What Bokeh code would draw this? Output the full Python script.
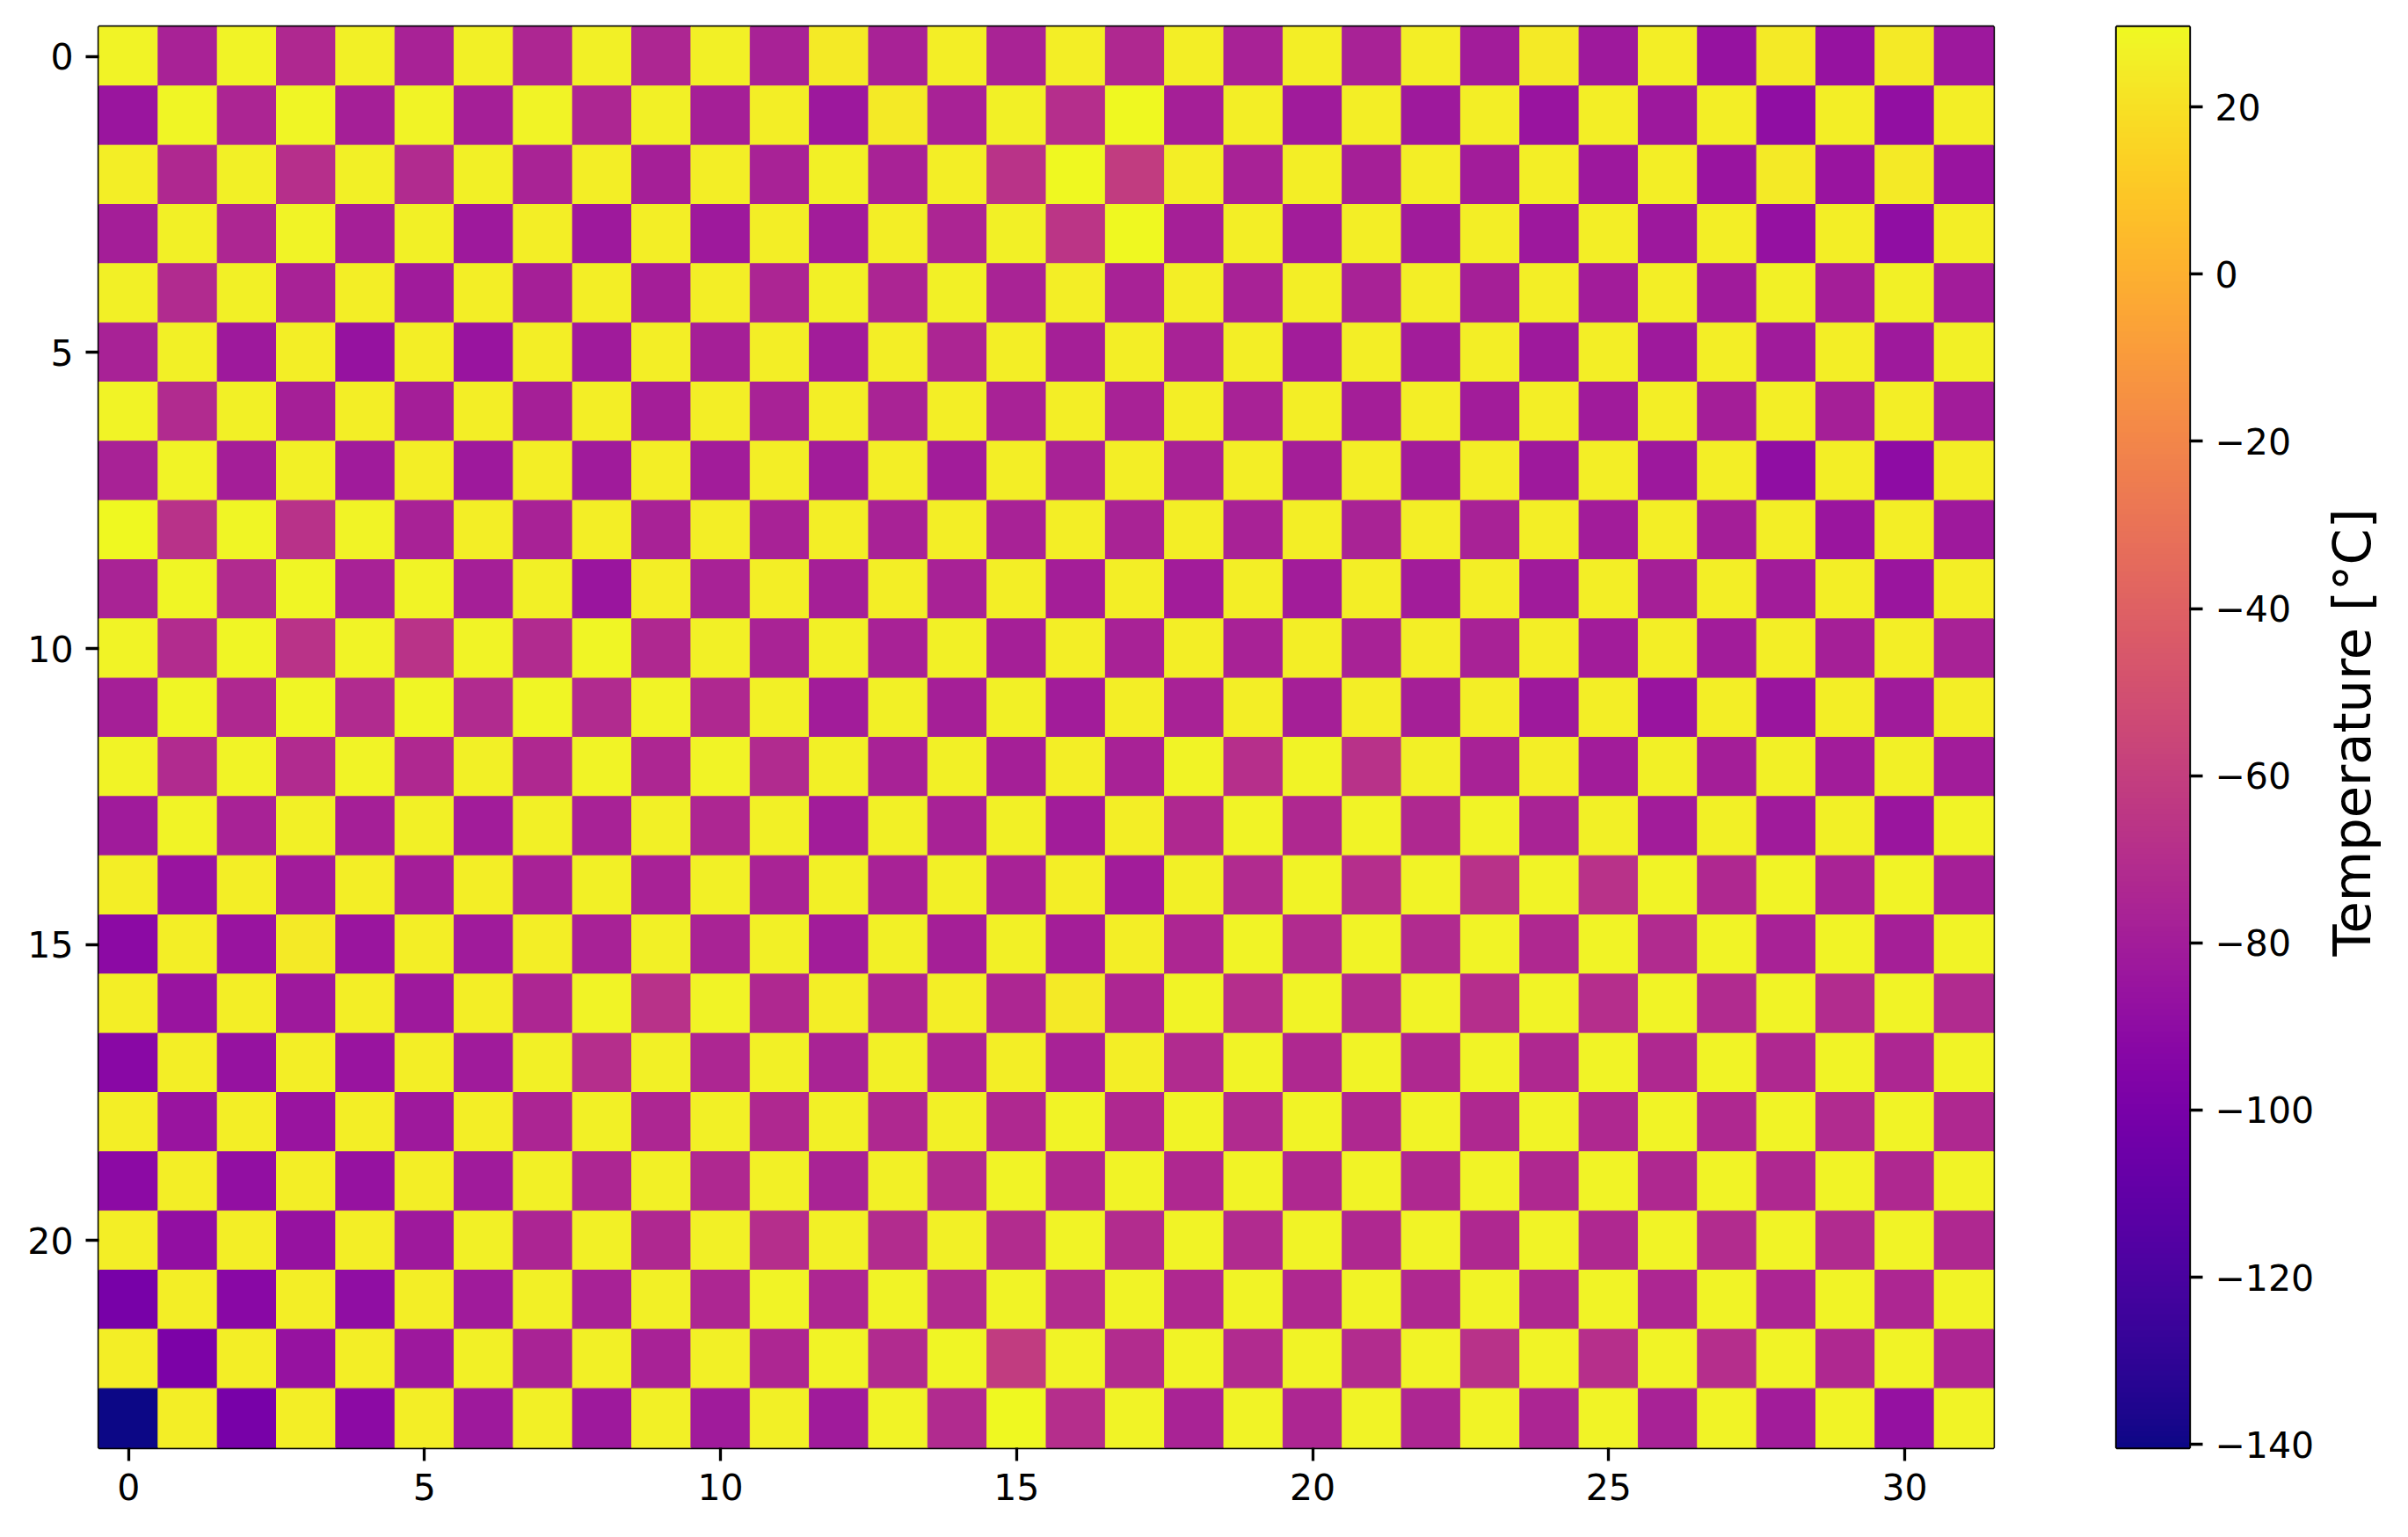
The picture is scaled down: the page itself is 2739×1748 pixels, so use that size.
import math
import numpy as np
from bokeh.plotting import figure
from bokeh.models import LinearColorMapper, ColumnDataSource, Range1d, FixedTicker
from bokeh.core.properties import value
from bokeh.palettes import Plasma256
from bokeh.layouts import row
from bokeh.embed import file_html
from bokeh.resources import INLINE

# Temperature grid [°C], one list per image row (row 0 at top)
row_00 = [27, -77, 27, -73, 26, -77, 26, -74, 26, -74, 26, -77, 24, -77, 25, -76,
          25, -73, 25, -77, 25, -77, 25, -80, 24, -82, 25, -86, 24, -86, 24, -83]
row_01 = [-84, 28, -75, 28, -78, 27, -78, 27, -74, 26, -78, 25, -83, 24, -77, 26,
          -70, 29, -78, 25, -81, 25, -82, 25, -85, 25, -83, 25, -89, 25, -88, 25]
row_02 = [25, -73, 26, -69, 26, -72, 26, -76, 25, -78, 25, -77, 26, -77, 25, -67,
          29.6, -62, 25, -77, 25, -78, 25, -80, 25, -83, 25, -85, 24, -85, 24, -85]
row_03 = [-79, 26, -74, 27, -78, 26, -82, 25, -82, 25, -82, 25, -80, 25, -75, 26,
          -66, 29, -78, 25, -80, 25, -81, 25, -83, 25, -83, 25, -87, 25, -89, 25]
row_04 = [26, -72, 26, -77, 25, -81, 25, -78, 25, -79, 25, -75, 26, -75, 26, -76,
          25, -77, 25, -77, 25, -77, 25, -78, 25, -80, 25, -81, 26, -79, 26, -80]
row_05 = [-77, 26, -82, 25, -86, 25, -85, 25, -81, 25, -78, 25, -80, 25, -75, 25,
          -78, 25, -77, 25, -80, 25, -80, 25, -82, 25, -82, 25, -81, 25, -82, 26]
row_06 = [27, -72, 26, -78, 25, -79, 25, -78, 25, -79, 25, -77, 25, -76, 25, -77,
          25, -77, 25, -77, 25, -79, 25, -80, 25, -81, 25, -79, 25, -78, 25, -80]
row_07 = [-77, 27, -79, 26, -81, 25, -82, 25, -81, 25, -80, 25, -80, 25, -80, 25,
          -77, 25, -77, 25, -79, 25, -80, 25, -82, 25, -83, 25, -89, 25, -90, 25]
row_08 = [29, -68, 28, -68, 27, -77, 25, -77, 25, -77, 25, -77, 25, -77, 25, -77,
          25, -76, 25, -77, 25, -76, 25, -77, 25, -80, 25, -79, 25, -84, 25, -82]
row_09 = [-76, 28, -72, 28, -77, 27, -78, 26, -84, 25, -77, 25, -78, 25, -77, 25,
          -79, 25, -80, 25, -80, 25, -80, 25, -81, 25, -78, 25, -80, 25, -84, 25]
row_10 = [27, -71, 28, -67, 27, -67, 27, -72, 28, -73, 26, -76, 26, -77, 26, -78,
          25, -77, 25, -77, 25, -77, 25, -77, 25, -80, 25, -80, 25, -78, 25, -77]
row_11 = [-78, 28, -73, 28, -72, 28, -72, 28, -72, 27, -73, 26, -80, 26, -78, 26,
          -80, 25, -77, 25, -78, 25, -78, 25, -82, 25, -85, 25, -84, 25, -81, 25]
row_12 = [27, -72, 27, -72, 27, -73, 26, -73, 27, -74, 27, -72, 26, -77, 26, -78,
          25, -77, 27, -69, 27, -68, 26, -77, 25, -80, 26, -79, 26, -80, 26, -80]
row_13 = [-81, 27, -77, 26, -78, 26, -80, 26, -77, 26, -74, 26, -80, 26, -77, 26,
          -80, 25, -73, 27, -73, 27, -73, 27, -76, 26, -80, 26, -81, 26, -84, 27]
row_14 = [25, -85, 25, -80, 25, -79, 25, -77, 26, -77, 26, -76, 26, -77, 26, -77,
          25, -80, 26, -72, 27, -70, 27, -68, 27, -68, 27, -73, 27, -76, 27, -78]
row_15 = [-91, 25, -85, 24, -84, 25, -81, 25, -77, 26, -76, 26, -80, 26, -78, 26,
          -79, 25, -74, 27, -72, 27, -72, 27, -73, 27, -72, 27, -77, 27, -78, 27]
row_16 = [25, -85, 25, -82, 25, -82, 25, -74, 27, -68, 27, -73, 25, -74, 25, -74,
          24, -74, 27, -70, 27, -71, 27, -70, 27, -70, 27, -72, 27, -71, 27, -72]
row_17 = [-92, 25, -86, 25, -85, 25, -81, 26, -70, 26, -74, 26, -76, 26, -75, 25,
          -77, 25, -72, 27, -73, 27, -73, 27, -73, 27, -73, 27, -73, 27, -74, 27]
row_18 = [25, -85, 25, -85, 25, -82, 25, -75, 26, -74, 26, -73, 26, -73, 26, -73,
          27, -73, 27, -72, 27, -73, 27, -73, 27, -73, 27, -73, 27, -72, 27, -73]
row_19 = [-91, 25, -88, 25, -86, 25, -81, 26, -74, 26, -73, 26, -76, 26, -72, 27,
          -73, 27, -73, 27, -73, 27, -73, 27, -73, 27, -73, 27, -73, 27, -73, 27]
row_20 = [25, -88, 25, -86, 25, -82, 26, -75, 26, -73, 26, -70, 26, -71, 26, -71,
          27, -71, 27, -72, 27, -73, 27, -73, 27, -73, 27, -71, 27, -72, 27, -73]
row_21 = [-100, 25, -92, 25, -89, 25, -81, 26, -77, 26, -74, 27, -74, 27, -72, 27,
          -71, 27, -73, 27, -73, 27, -73, 27, -73, 27, -74, 27, -75, 27, -74, 27]
row_22 = [25, -98, 25, -86, 25, -83, 26, -76, 26, -77, 26, -74, 27, -72, 28, -62,
          27, -71, 27, -72, 27, -71, 27, -68, 27, -69, 27, -70, 27, -73, 27, -75]
row_23 = [-140.4, 25, -100, 25, -91, 25, -82, 26, -82, 26, -81, 26, -81, 27, -72, 29.6,
          -70, 27, -76, 27, -74, 27, -74, 27, -75, 27, -77, 27, -80, 27, -87, 27]

grid_rows = [row_00, row_01, row_02, row_03, row_04, row_05, row_06, row_07,
             row_08, row_09, row_10, row_11, row_12, row_13, row_14, row_15,
             row_16, row_17, row_18, row_19, row_20, row_21, row_22, row_23]

x_ticks = [0, 5, 10, 15, 20, 25, 30]
y_ticks = [0, 5, 10, 15, 20]
cbar_ticks = [-140, -120, -100, -80, -60, -40, -20, 0, 20]
t_min = -140.4
t_max = 29.6
cbar_label = "Temperature [°C]"

xs, ys, ts = [], [], []
for r, vals in enumerate(grid_rows):
    for c, v in enumerate(vals):
        xs.append(c)
        ys.append(r)
        ts.append(v)
src = ColumnDataSource(dict(x=xs, y=ys, t=ts))
mapper = LinearColorMapper(palette=Plasma256, low=t_min, high=t_max)

n_cols = len(grid_rows[0])
n_rows = len(grid_rows)

FONT = "DejaVu Sans"
TICK_SIZE = "41px"
LW = 3.3
H = 1748

# --- main heat map ---
p = figure(width=2300, height=H,
           x_range=Range1d(-0.5, n_cols - 0.5), y_range=Range1d(n_rows - 0.5, -0.5),
           output_backend="svg", toolbar_location=None,
           min_border_left=112, min_border_right=33, min_border_top=30, min_border_bottom=102)
p.rect(x="x", y="y", width=1, height=1, source=src,
       fill_color={"field": "t", "transform": mapper},
       line_color={"field": "t", "transform": mapper}, line_width=1)
p.grid.visible = False
p.outline_line_color = "black"
p.outline_line_width = LW
p.xaxis.ticker = FixedTicker(ticks=x_ticks)
p.yaxis.ticker = FixedTicker(ticks=y_ticks)

# --- colour bar ---
cb = figure(width=341, height=H, x_range=Range1d(0, 1), y_range=Range1d(t_min, t_max),
            output_backend="svg", toolbar_location=None, x_axis_location=None,
            y_axis_location="right",
            min_border_left=107, min_border_right=151, min_border_top=30, min_border_bottom=102)
grad = np.linspace(t_min, t_max, 512).reshape(512, 1)
cb.image(image=[grad], x=0, y=t_min, dw=1, dh=t_max - t_min, color_mapper=mapper)
cb.grid.visible = False
cb.outline_line_color = "black"
cb.outline_line_width = LW
cb.yaxis.ticker = FixedTicker(ticks=cbar_ticks)
cb.yaxis.major_label_overrides = {t: (("\u2212" + str(abs(t))) if t < 0 else str(t)) for t in cbar_ticks}

for ax in [p.xaxis[0], p.yaxis[0], cb.yaxis[0]]:
    ax.axis_line_color = None
    ax.major_tick_out = 15
    ax.major_tick_in = 0
    ax.minor_tick_out = 0
    ax.minor_tick_in = 0
    ax.major_tick_line_width = LW
    ax.major_tick_line_color = "black"
    ax.major_label_standoff = 14
    ax.major_label_text_font = FONT
    ax.major_label_text_font_size = TICK_SIZE
    ax.major_label_text_color = "black"

# --- colour-bar title strip (text reads bottom-to-top) ---
lw_strip = 2739 - 2300 - 341
lab = figure(width=lw_strip, height=H, x_range=Range1d(0, lw_strip), y_range=Range1d(H, 0),
             output_backend="svg", toolbar_location=None,
             x_axis_location=None, y_axis_location=None,
             min_border=0, min_border_left=0, min_border_right=0,
             min_border_top=0, min_border_bottom=0)
lab.outline_line_color = None
lab.grid.visible = False
lab.text(x=[34], y=[868], text=[cbar_label], angle=math.pi / 2,
         text_align="center", text_baseline="alphabetic",
         text_font=value(FONT), text_font_size="59px", text_color="black")

for f in (p, cb, lab):
    f.background_fill_color = "white"
    f.border_fill_color = "white"

layout = row(p, cb, lab, spacing=0)
open("out.html", "w").write(file_html(layout, INLINE))
